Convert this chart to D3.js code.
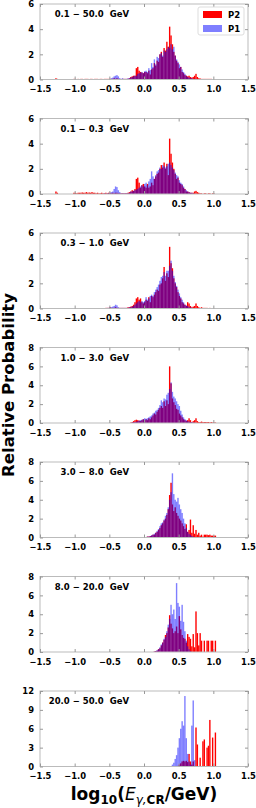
<!DOCTYPE html>
<html>
<head>
<meta charset="utf-8">
<script src="https://cdn.jsdelivr.net/npm/d3@7"></script>
<style>
body { margin: 0; background: #fff; }
svg text { font-family: "DejaVu Sans", sans-serif; font-weight: bold; }
</style>
</head>
<body>
<svg id="chart" width="256" height="808"></svg>
<script>
// energy bands, one panel each
var bands = ["0.1 \u2212 50.0  GeV", "0.1 \u2212 0.3  GeV", "0.3 \u2212 1.0  GeV", "1.0 \u2212 3.0  GeV",
             "3.0 \u2212 8.0  GeV", "8.0 \u2212 20.0  GeV", "20.0 \u2212 50.0  GeV"];
var yMax = [6, 6, 6, 8, 8, 8, 12];
var yTicks = [[0,2,4,6], [0,2,4,6], [0,2,4,6], [0,2,4,6,8], [0,2,4,6,8], [0,2,4,6,8], [0,3,6,9,12]];
var xTicks = [-1.5, -1.0, -0.5, 0.0, 0.5, 1.0, 1.5];
var binWidth = 0.02;
var binStart = [-1.30, -1.30, -0.56, -0.20, 0.00, 0.14, 0.40];

// P2 histogram heights (red), one array per panel
var p2 = [
  [0,0.1,0.05,0,0,0,0,0,0,0, 0,0,0,0,0.05,0.05,0,0.05,0,0.05, 0.05,0,0.05,0.05,0.05,0,0.05,0.05,0,0.05,
   0.05,0.05,0,0.05,0.05,0,0.05,0.05,0.05,0.05,
   0.05,0.05,0.05,0.1,0.05,0.1,0.05,0.05,0.03,0.05, 0.05,0.05,0.05,0.05,0.1,0.2,0.25,0.3,0.3,0.9,
   1.0,0.7,0.6,0.55,0.5,0.6,0.6,0.5,0.7,0.4, 0.8,0.9,1.3,1.1,1.5,1.4,2.0,2.2,1.8,2.5,
   2.3,3.0,2.6,4.2,3.5,2.8,2.2,1.9,1.5,1.3, 0.9,1.0,0.6,0.5,0.35,0.3,0.25,0.3,0.2,0.15,
   0.2,0.3,0.45,0.2,0.1,0.08,0.05,0.05,0.05,0.05, 0.05,0.05,0.05,0.05,0.03,0.03,0.03],
  [0,0.2,0.1,0,0,0,0,0,0,0, 0,0,0,0,0.1,0.1,0.05,0.1,0.1,0.1, 0.12,0.1,0.1,0.15,0.1,0.12,0.1,0.15,0.1,0.1,
   0.05,0.1,0.05,0.05,0.1,0.05,0.05,0.1,0.05,0.1,
   0.1,0.05,0.1,0.05,0.1,0.1,0.05,0.05,0.05,0.05, 0.05,0.05,0.05,0.1,0.15,0.2,0.3,0.25,0.4,1.2,
   1.3,0.9,0.5,0.7,0.8,0.6,0.5,0.8,0.5,0.6, 0.9,0.7,1.2,1.4,1.6,1.7,2.0,2.3,2.1,2.5,
   2.0,2.4,1.5,4.4,3.2,2.5,2.0,1.6,1.2,1.3, 0.9,0.8,0.7,0.5,0.4,0.2,0.2,0.15,0.1,0.1,
   0.1,0.2,0.25,0.15,0.1,0.05,0.05,0,0.05,0.05, 0,0.05,0.05,0,0.05,0.03],
  [0.05,0.05,0.05,0.1,0.05,0.05,0.05,0.1,0.05,0.05, 0.05,0.05,0.05,0.05,0.05,0.05,0.1,0.1,0.15,0.2,
   0.3,0.5,0.8,0.9,0.7,0.8,0.5,0.4,0.5,0.7, 0.6,0.9,0.5,1.0,0.9,1.1,1.3,1.5,1.4,1.9,
   2.0,2.4,3.3,2.2,2.8,2.5,4.9,3.6,3.2,2.4, 2.0,1.7,1.3,1.0,0.8,0.5,0.4,0.3,0.2,0.5,
   0.4,0.2,0.1,0.15,0.2,0.4,0.2,0.1,0.05,0.1, 0.05,0.05,0.05,0.05,0.03,0.05,0.03,0.03,0.03],
  [0.05,0.1,0.2,0.3,0.35,0.3,0.25,0.2,0.3,0.4, 0.3,0.4,0.3,0.5,0.4,0.6,0.8,1.0,0.9,1.2,
   1.4,1.6,1.8,1.6,2.3,1.8,2.4,2.0,6.0,4.2, 2.6,2.2,1.9,1.5,1.4,1.0,0.8,0.6,0.4,0.3,
   0.2,0.3,0.5,0.3,0.1,0.2,0.3,0.5,0.2,0.1, 0.1,0.15,0.1,0.1,0.1,0.1,0.1,0.05,0.1,0.05, 0.05,0.05],
  [0.05,0.05,0.1,0.1,0.15,0.2,0.3,0.3,0.5,0.6, 0.8,1.0,1.3,1.5,1.8,2.0,2.4,3.0,4.5,5.8,
   3.5,2.8,3.2,2.6,2.3,2.0,1.8,1.5,1.2,0.9, 1.4,0.6,0.8,1.9,0.5,1.3,0.4,0.8,0.3,0.5,
   0.2,0.3,0.1,0.3,0.3,0.3,0.25,0.3,0.2,0.2, 0.2,0.2],
  [0.05,0.1,0.15,0.3,0.4,0.7,1.0,1.3,1.8,2.0, 2.6,3.9,3.0,2.5,2.0,2.2,2.7,2.0,3.8,2.4,
   1.8,1.5,1.4,1.0,1.9,1.6,1.4,0.6,1.9,0.5, 4.3,2.0,0.7,2.0,1.2,0,1.2,0,1.2,1.2, 0,1.2,1.2,0,1.2],
  [0,0,0,0,0.1,0.3,0.5,0.8,0.9,0.8, 0.9,0.7,2.0,0.8,0.3,0.8,0,6.2,3.5,0, 1.4,0,4.0,4.3,0,3.0,3.3,7.4,0,4.6, 0,5.4]
];

// P1 histogram heights (blue), same bins as P2
var p1 = [
  [0,0,0,0,0,0,0,0,0,0, 0,0,0,0,0,0,0,0,0,0, 0,0,0,0,0,0,0,0,0,0, 0,0,0,0,0,0,0.03,0,0.03,0.03,
   0.05,0.1,0.15,0.25,0.3,0.35,0.25,0.1,0.05,0.1, 0.05,0.05,0.05,0.1,0.1,0.15,0.2,0.25,0.3,0.3,
   0.45,0.5,0.55,0.6,0.5,0.65,0.7,0.6,0.9,0.75, 1.3,1.0,1.6,1.2,1.8,1.7,2.0,2.1,1.9,2.3,
   2.2,2.4,2.6,2.5,2.8,2.4,2.6,1.9,1.6,1.4, 1.2,1.0,0.8,0.6,0.45,0.3,0.2,0.15,0.1,0.1,
   0.05,0.05,0.05,0.03,0.03],
  [0,0,0,0,0,0,0,0,0,0, 0,0,0,0,0,0,0,0,0,0, 0,0,0,0,0,0,0,0,0,0, 0,0,0,0,0,0,0.05,0,0.05,0.05,
   0.1,0.15,0.2,0.4,0.6,0.55,0.3,0.15,0.05,0.05, 0.05,0.05,0.05,0.05,0.1,0.2,0.2,0.25,0.3,0.35,
   0.4,0.5,0.6,0.7,0.6,0.8,0.9,0.7,1.0,1.2, 1.8,1.4,1.2,1.5,1.8,1.9,2.1,2.0,2.3,2.2,
   2.1,2.2,2.4,2.5,2.3,2.1,1.9,1.7,1.5,1.4, 1.1,0.9,0.8,0.6,0.4,0.3,0.2,0.15,0.1,0.1, 0.05],
  [0,0.05,0.05,0.1,0.1,0.15,0.2,0.3,0.25,0.1, 0.05,0.05,0.05,0.05,0.05,0.05,0.05,0.1,0.1,0.15,
   0.2,0.3,0.4,0.5,0.6,0.5,0.6,0.5,0.6,0.9, 0.7,0.8,1.0,1.1,1.0,1.3,1.5,1.7,1.9,2.2,
   2.5,2.6,2.9,2.6,3.0,3.0,3.4,3.8,3.0,2.6, 2.1,1.8,1.5,1.2,0.9,0.7,0.5,0.3,0.25,0.2,
   0.1,0.1,0.05,0.05],
  [0,0.05,0.1,0.1,0.15,0.2,0.25,0.3,0.35,0.4, 0.5,0.45,0.5,0.6,0.7,0.8,1.0,1.1,1.3,1.4,
   1.6,1.9,2.4,2.2,2.6,2.5,3.0,3.2,3.6,4.3, 3.3,2.8,2.6,2.3,2.0,1.8,1.3,0.9,0.6,0.4,
   0.3,0.2,0.15,0.1,0.1,0.05,0.05],
  [0.05,0.05,0.1,0.1,0.15,0.25,0.3,0.4,0.5,0.7, 0.9,1.2,1.5,1.6,1.9,2.3,2.6,3.2,4.0,4.8,
   6.8,4.6,4.0,3.8,4.2,3.5,3.0,2.6,2.0,1.5, 1.0,0.6,0.4,0.3,0.15,0.1,0.05],
  [0.05,0.1,0.2,0.3,0.5,0.8,1.0,1.4,1.6,2.2, 2.9,3.5,5.0,4.0,4.5,3.5,7.3,5.2,4.8,3.3,
   5.0,3.2,2.2,1.2,0.6,0.3,0.1],
  [0.3,0.6,1.2,1.8,3.0,4.5,6.0,7.2,6.5,11.2, 4.5,2.0,0.8,0.3,6.5,10.5,1.0]
];

var svg = d3.select("#chart");
var left = 40, right = 248, top0 = 4, step = 114.5, plotH = 75.5;

var x = d3.scaleLinear().domain([-1.5, 1.5]).range([left, right]);
var fmt = d3.format(".1f");

bands.forEach(function(band, k) {
    var top = top0 + k * step;
    var y = d3.scaleLinear().domain([0, yMax[k]]).range([top + plotH, top]);
    var g = svg.append("g");

    var drawHist = function(values, color, opacity) {
        var bins = values.map(function(v, i) {
            return { x0: binStart[k] + i * binWidth, v: v };
        }).filter(function(d) { return d.v > 0; });
        g.selectAll(null)
            .data(bins)
            .enter()
            .append("rect")
            .attr("x", function(d) { return x(d.x0); })
            .attr("width", function(d) { return x(d.x0 + binWidth) - x(d.x0); })
            .attr("y", function(d) { return y(d.v); })
            .attr("height", function(d) { return y(0) - y(d.v); })
            .attr("fill", color)
            .attr("fill-opacity", opacity);
    };
    drawHist(p2[k], "#ff0000", 1);
    drawHist(p1[k], "#0000ff", 0.5);

    // frame
    g.append("rect")
        .attr("x", left).attr("y", top)
        .attr("width", right - left).attr("height", plotH)
        .attr("fill", "none").attr("stroke", "#bbb").attr("stroke-width", 1);

    var axes = [
        [d3.axisBottom(x).tickValues(xTicks).tickFormat(fmt).tickPadding(7), 0, top + plotH],
        [d3.axisTop(x).tickValues(xTicks).tickFormat(""), 0, top],
        [d3.axisLeft(y).tickValues(yTicks[k]).tickFormat(d3.format("d")).tickPadding(6), left, 0],
        [d3.axisRight(y).tickValues(yTicks[k]).tickFormat(""), right, 0]
    ];
    axes.forEach(function(a) {
        var ax = g.append("g")
            .attr("transform", "translate(" + a[1] + "," + a[2] + ")")
            .call(a[0].tickSize(-3));
        ax.select(".domain").remove();
        ax.selectAll(".tick line").attr("stroke", "#999");
        ax.selectAll(".tick text").attr("fill", "#000").style("font-size", "8.4px");
    });

    g.append("text")
        .attr("x", 129).attr("y", top + 13)
        .attr("text-anchor", "end")
        .style("font-size", "8.5px")
        .style("white-space", "pre")
        .text(band);
});

// legend in first panel
var leg = svg.append("g");
leg.append("rect").attr("x", 198).attr("y", 7).attr("width", 46).attr("height", 28)
    .attr("rx", 2).attr("fill", "#fff").attr("fill-opacity", 0.8).attr("stroke", "#ddd");
leg.append("rect").attr("x", 203).attr("y", 11).attr("width", 19).attr("height", 7).attr("fill", "#ff0000");
leg.append("rect").attr("x", 203).attr("y", 25).attr("width", 19).attr("height", 7).attr("fill", "#0000ff").attr("fill-opacity", 0.5);
leg.append("text").attr("x", 228).attr("y", 17.5).style("font-size", "8.5px").text("P2");
leg.append("text").attr("x", 228).attr("y", 31.5).style("font-size", "8.5px").text("P1");

// axis titles
svg.append("text")
    .attr("transform", "translate(14,385) rotate(-90)")
    .attr("text-anchor", "middle")
    .style("font-size", "16.5px")
    .text("Relative Probability");

var xl = svg.append("text")
    .attr("x", 144).attr("y", 800)
    .attr("text-anchor", "middle")
    .style("font-size", "17px");
xl.append("tspan").text("log");
xl.append("tspan").attr("dy", 4).style("font-size", "12px").text("10");
xl.append("tspan").attr("dy", -4).text("(");
xl.append("tspan").style("font-style", "italic").style("font-weight", "normal").text("E");
xl.append("tspan").attr("dy", 4).style("font-size", "12px").style("font-style", "italic").style("font-weight", "normal").text("\u03b3,");
xl.append("tspan").style("font-size", "12px").text("CR");
xl.append("tspan").attr("dy", -4).text("/GeV)");
</script>
</body>
</html>
